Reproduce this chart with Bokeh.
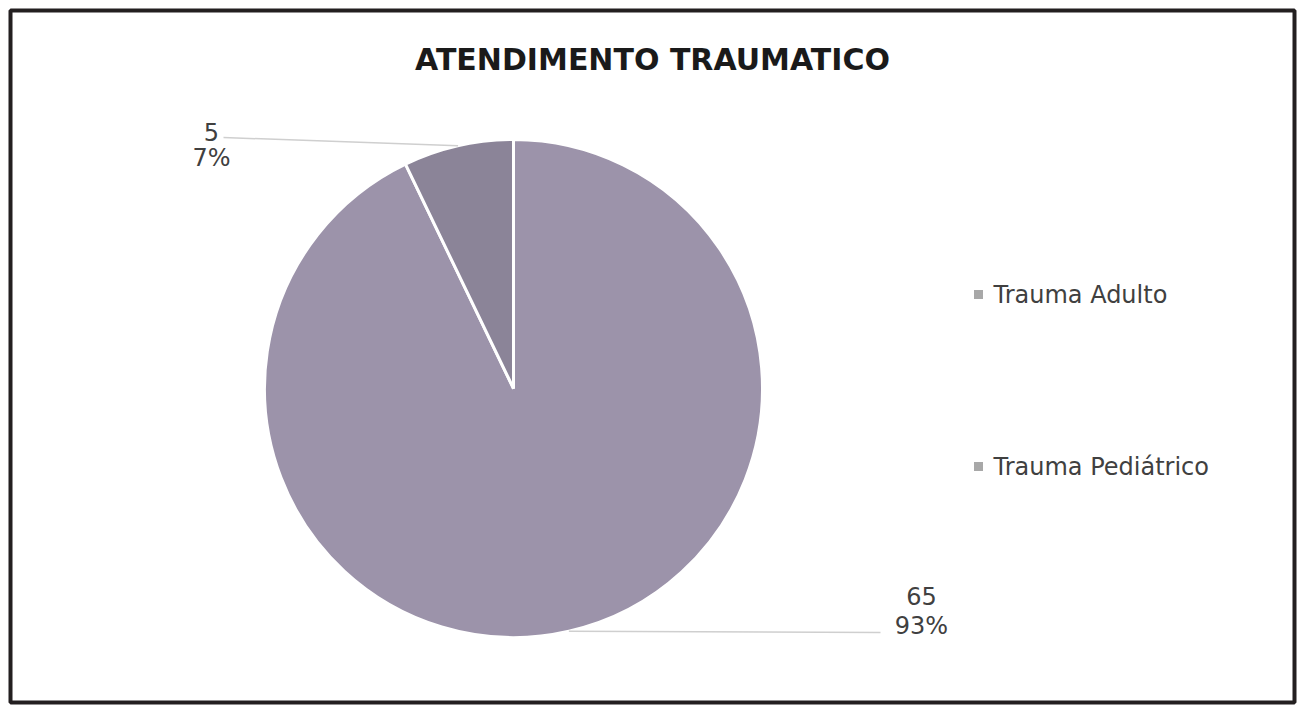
import numpy as np
from bokeh.plotting import figure
from bokeh.models import ColumnDataSource, Label
from bokeh.core.properties import value
from bokeh.embed import file_html
from bokeh.resources import INLINE

# ---- data ----
categories = ["Trauma Adulto", "Trauma Pediátrico"]
counts = [65, 5]
title_text = "ATENDIMENTO TRAUMATICO"

# ---- styling ----
slice_colors = ["#9c93aa", "#8b8498"]
legend_marker_color = "#a8a8a8"
text_color = "#404040"
FONT = "DejaVu Sans"

W, H = 1298, 706
CX, CY, R = 513, 318, 249

counts_arr = np.array(counts, dtype=float)
total = counts_arr.sum()
frac = counts_arr / total
cum = np.concatenate([[0], np.cumsum(frac)])
# clockwise from 12 o'clock
start_a = np.pi / 2 - 2 * np.pi * cum[1:]
end_a = np.pi / 2 - 2 * np.pi * cum[:-1]
mid_a = (start_a + end_a) / 2

src = ColumnDataSource(dict(cat=categories, start=start_a, end=end_a,
                            color=slice_colors, x=[CX] * 2, y=[CY] * 2))

p = figure(width=W, height=H, x_range=(10, 1294), y_range=(4, 696),
           output_backend="svg", toolbar_location=None,
           min_border_left=10, min_border_top=10, min_border_right=4, min_border_bottom=4,
           background_fill_color="white", border_fill_color="white")
p.axis.visible = False
p.grid.visible = False
p.outline_line_color = "#231f20"
p.outline_line_width = 4

p.wedge(x="x", y="y", radius=R, start_angle="start", end_angle="end",
        fill_color="color", line_color="white", line_width=3, source=src)

# ---- data labels with leader lines ----
pct = [f"{round(f * 100):d}%" for f in frac]
label_pos = [(921, 96, 15), (211, 562, 13)]
line_end_x = [880, 223]
line_end_y = [74, 569]
for i in range(len(counts)):
    ex = CX + R * np.cos(mid_a[i])
    ey = CY + R * np.sin(mid_a[i])
    p.line([ex, line_end_x[i]], [ey, line_end_y[i]], line_color="#cfcfcf", line_width=1.5)
    lx, ly, dy = label_pos[i]
    p.text(x=[lx], y=[ly + dy], text=[str(counts[i])], text_align="center",
           text_baseline="middle", text_font=value(FONT), text_font_size="24px",
           text_color=text_color)
    p.text(x=[lx], y=[ly - dy], text=[pct[i]], text_align="center",
           text_baseline="middle", text_font=value(FONT), text_font_size="24px",
           text_color=text_color)

# ---- legend (manual) ----
leg_y = [412, 240]
p.scatter(x=[978] * len(categories), y=leg_y, marker="square", size=9,
          fill_color=legend_marker_color, line_color=None)
p.text(x=[993] * len(categories), y=leg_y, text=categories, text_align="left",
       text_baseline="middle", text_font=value(FONT), text_font_size="24px",
       text_color=text_color)

# ---- title ----
p.add_layout(Label(x=652, y=647, text=title_text, text_align="center",
                   text_baseline="middle", text_font=FONT, text_font_size="30px",
                   text_font_style="bold", text_color="#1a1a1a"))

open("out.html", "w").write(file_html(p, INLINE))
